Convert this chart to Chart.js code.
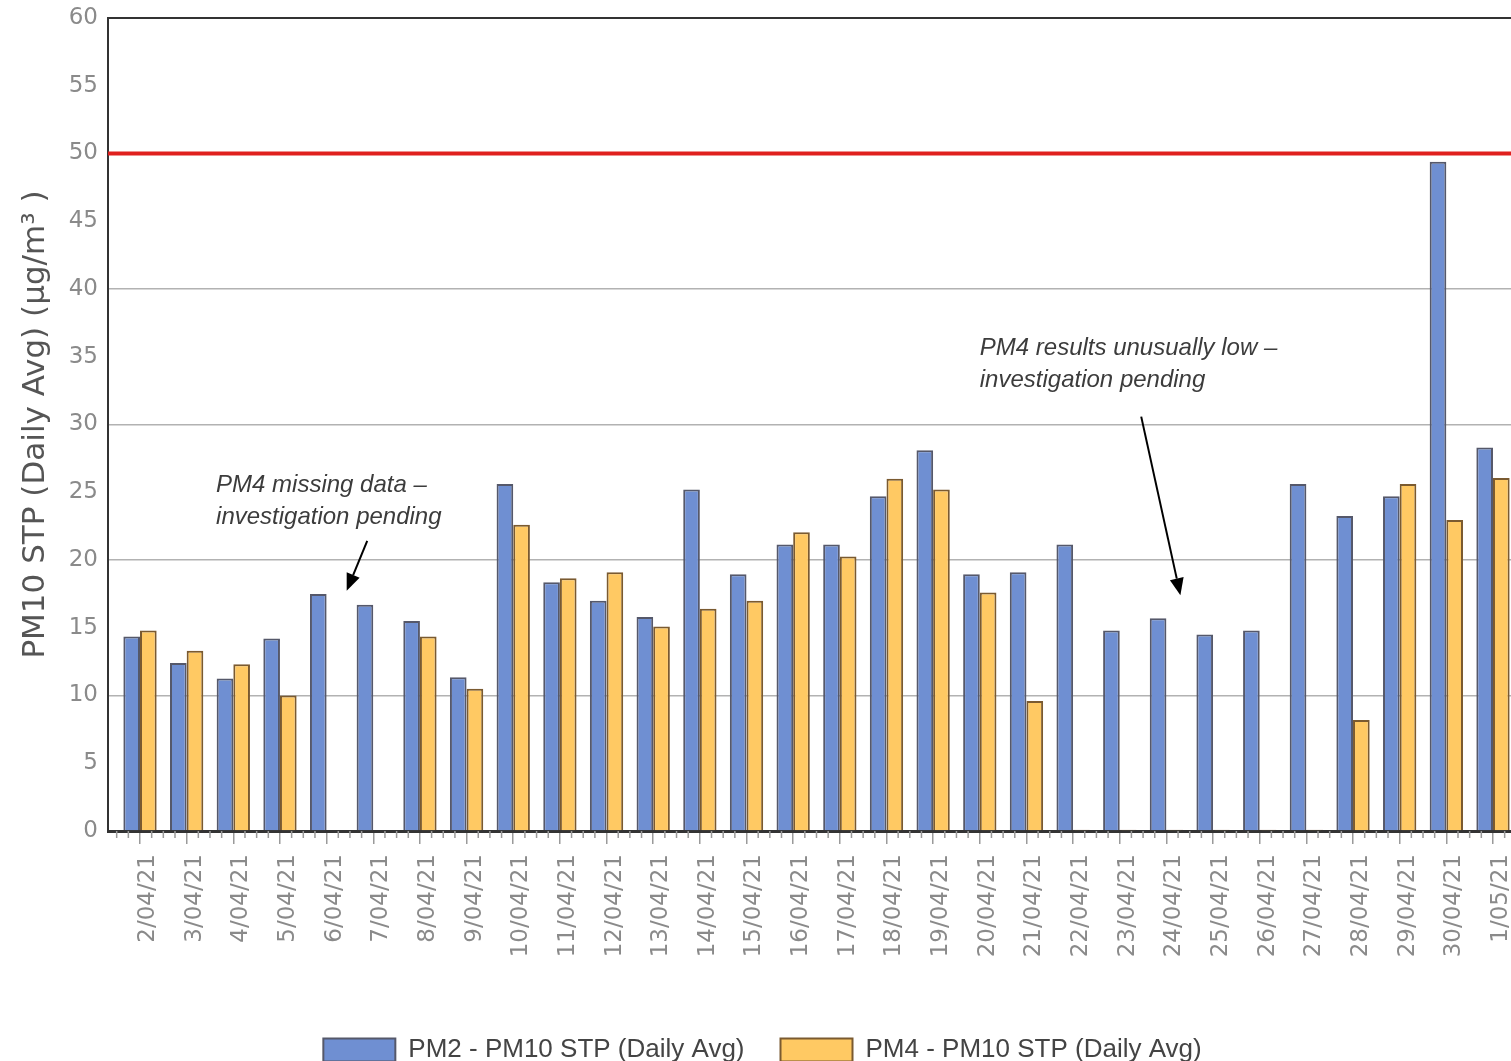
<!DOCTYPE html>
<html>
<head>
<meta charset="utf-8">
<script src="https://cdn.jsdelivr.net/npm/chart.js@4.4.1/dist/chart.umd.min.js"></script>
<style>
  html, body { margin: 0; padding: 0; background: #fff; overflow: hidden; }
  #wrap { width: 1540px; height: 1073px; position: relative; }
</style>
</head>
<body>
<div id="wrap"><canvas id="pmChart"></canvas></div>
<script>
const dates = ['2/04/21', '3/04/21', '4/04/21', '5/04/21', '6/04/21', '7/04/21', '8/04/21', '9/04/21',
    '10/04/21', '11/04/21', '12/04/21', '13/04/21', '14/04/21', '15/04/21', '16/04/21', '17/04/21',
    '18/04/21', '19/04/21', '20/04/21', '21/04/21', '22/04/21', '23/04/21', '24/04/21', '25/04/21',
    '26/04/21', '27/04/21', '28/04/21', '29/04/21', '30/04/21', '1/05/21'];

const pm2Values = [14.35, 12.4, 11.25, 14.2, 17.5, 16.7, 15.5, 11.35, 25.6, 18.35, 17.0, 15.8, 25.2, 18.95,
    21.15, 21.15, 24.7, 28.1, 18.95, 19.1, 21.15, 14.8, 15.7, 14.5, 14.8, 25.6, 23.25, 24.7, 49.4, 28.3];

const pm4Values = [14.8, 13.3, 12.3, 10.0, null, null, 14.35, 10.5, 22.6, 18.65, 19.1, 15.1, 16.4, 17.0,
    22.05, 20.25, 26.0, 25.2, 17.6, 9.6, 0.1, 0.1, 0.1, 0.1, 0.1, 0.1, 8.2, 25.6, 22.95, 26.05];

const seriesLabels = ['PM2 - PM10 STP (Daily Avg)', 'PM4 - PM10 STP (Daily Avg)'];
const limitValue = 50;
const yTitle = 'PM10 STP (Daily Avg) (µg/m³ )';

// notes: anchor in data units (x = category index, y = value)
const notes = [
    { lines: ['PM4 missing data –', 'investigation pending'], x: 1.63, y: 25.5,
      arrowFrom: [4.87, 21.42], arrowTo: [4.43, 17.73] },
    { lines: ['PM4 results unusually low –', 'investigation pending'], x: 18.0, y: 35.65,
      arrowFrom: [21.46, 30.58], arrowTo: [22.30, 17.4] }
];

const edgePad = 0.686;

const limitLine = {
    id: 'limitLine',
    afterDatasetsDraw(chart) {
        const { ctx, chartArea, scales } = chart;
        const y = scales.y.getPixelForValue(limitValue);
        ctx.save();
        ctx.strokeStyle = '#e0201e';
        ctx.lineWidth = 4;
        ctx.beginPath();
        ctx.moveTo(chartArea.left, y);
        ctx.lineTo(chartArea.right, y);
        ctx.stroke();
        ctx.restore();
    }
};

const minorTicks = {
    id: 'minorTicks',
    afterDraw(chart) {
        const { ctx, scales } = chart;
        const x = scales.x;
        const step = x.getPixelForValue(1) - x.getPixelForValue(0);
        ctx.save();
        ctx.strokeStyle = '#9a9a9a';
        ctx.lineWidth = 1.5;
        ctx.beginPath();
        for (let i = 0; i < dates.length; i++) {
            const c = x.getPixelForValue(i);
            [-2, -1, 1].forEach(k => {
                const px = c + k * step / 4;
                ctx.moveTo(px, x.top);
                ctx.lineTo(px, x.top + 7);
            });
        }
        ctx.stroke();
        ctx.restore();
    }
};

const notesPlugin = {
    id: 'notes',
    afterDraw(chart) {
        const { ctx, scales } = chart;
        ctx.save();
        ctx.font = 'italic 24px "Liberation Sans", Arial, sans-serif';
        ctx.textBaseline = 'middle';
        notes.forEach(n => {
            const tx = scales.x.getPixelForValue(n.x);
            const ty = scales.y.getPixelForValue(n.y);
            ctx.fillStyle = '#3c3c3c';
            n.lines.forEach((line, i) => ctx.fillText(line, tx, ty + i * 32));

            const x1 = scales.x.getPixelForValue(n.arrowFrom[0]);
            const y1 = scales.y.getPixelForValue(n.arrowFrom[1]);
            const x2 = scales.x.getPixelForValue(n.arrowTo[0]);
            const y2 = scales.y.getPixelForValue(n.arrowTo[1]);
            const ang = Math.atan2(y2 - y1, x2 - x1);
            const headLen = 17, headHalf = 7;
            const bx = x2 - headLen * Math.cos(ang);
            const by = y2 - headLen * Math.sin(ang);
            ctx.strokeStyle = '#000';
            ctx.lineWidth = 2;
            ctx.beginPath();
            ctx.moveTo(x1, y1);
            ctx.lineTo(bx, by);
            ctx.stroke();
            ctx.fillStyle = '#000';
            ctx.beginPath();
            ctx.moveTo(x2, y2);
            ctx.lineTo(bx + headHalf * Math.sin(ang), by - headHalf * Math.cos(ang));
            ctx.lineTo(bx - headHalf * Math.sin(ang), by + headHalf * Math.cos(ang));
            ctx.closePath();
            ctx.fill();
        });
        ctx.restore();
    }
};

const ctx = document.getElementById('pmChart').getContext('2d');
new Chart(ctx, {
    type: 'bar',
    data: {
        datasets: [
            {
                label: seriesLabels[0],
                data: pm2Values.map((v, i) => ({ x: i, y: v })),
                backgroundColor: '#6f8fd2',
                borderColor: '#55586a',
                borderWidth: 2,
                categoryPercentage: 0.714,
                barPercentage: 1.0
            },
            {
                label: seriesLabels[1],
                data: pm4Values.map((v, i) => ({ x: i, y: v })),
                backgroundColor: '#ffc963',
                borderColor: '#7a5a30',
                borderWidth: 2,
                categoryPercentage: 0.714,
                barPercentage: 1.0
            }
        ]
    },
    options: {
        responsive: true,
        maintainAspectRatio: false,
        animation: false,
        layout: { padding: { top: 18, right: 15, left: 0, bottom: 0 } },
        plugins: {
            tooltip: { enabled: false },
            legend: {
                position: 'bottom',
                labels: {
                    boxWidth: 72,
                    boxHeight: 23,
                    padding: 36,
                    color: '#444',
                    font: { family: '"Liberation Sans", Arial, sans-serif', size: 26 }
                }
            }
        },
        scales: {
            x: {
                type: 'linear',
                offset: false,
                min: -edgePad,
                max: dates.length - 1 + edgePad,
                afterBuildTicks(scale) {
                    scale.ticks = dates.map((d, i) => ({ value: i }));
                },
                afterFit(scale) {
                    scale.height = 170;
                    scale.paddingLeft = 0;
                    scale.paddingRight = 0;
                },
                ticks: {
                    autoSkip: false,
                    minRotation: 90,
                    maxRotation: 90,
                    padding: 10,
                    labelOffset: 8,
                    color: '#8a8a8a',
                    font: { family: '"DejaVu Sans", Verdana, sans-serif', size: 23 },
                    callback: value => dates[value]
                },
                grid: {
                    offset: false,
                    drawOnChartArea: false,
                    color: '#9a9a9a',
                    lineWidth: 1.5,
                    tickLength: 13
                },
                border: { color: '#333', width: 3 }
            },
            y: {
                min: 0,
                max: 60,
                afterFit(scale) {
                    scale.width = 108;
                    scale.paddingTop = 0;
                    scale.paddingBottom = 0;
                },
                ticks: {
                    stepSize: 5,
                    padding: 10,
                    color: '#8a8a8a',
                    font: { family: '"DejaVu Sans", Verdana, sans-serif', size: 23 }
                },
                grid: {
                    drawTicks: false,
                    color: c => c.tick.value === 60 ? '#333' : (c.tick.value % 10 === 0 && c.tick.value > 0 ? '#b2b2b2' : 'rgba(0,0,0,0)'),
                    lineWidth: c => c.tick.value === 60 ? 2 : 1.5
                },
                border: { color: '#333', width: 2 },
                title: {
                    display: true,
                    text: yTitle,
                    color: '#555',
                    padding: { top: 17, bottom: 0 },
                    font: { family: '"DejaVu Sans", Verdana, sans-serif', size: 31 }
                }
            }
        }
    },
    plugins: [limitLine, minorTicks, notesPlugin]
});
</script>
</body>
</html>
